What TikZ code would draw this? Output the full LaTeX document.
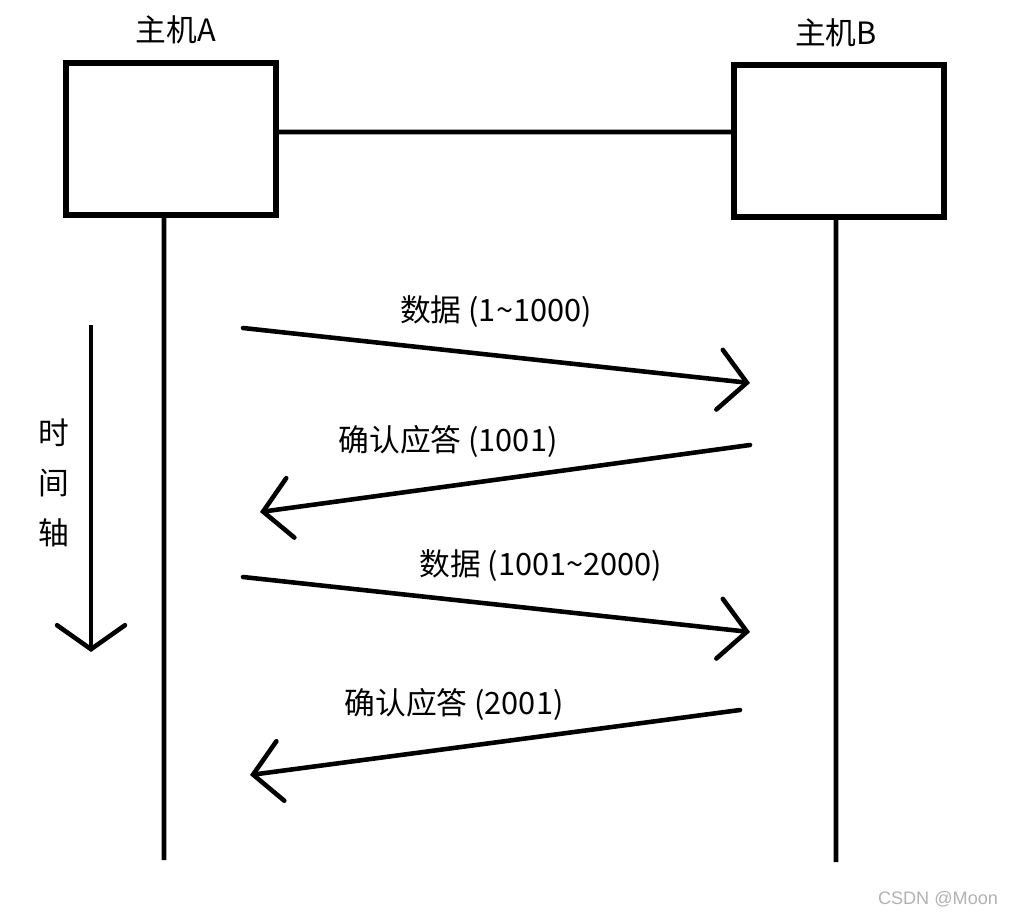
\documentclass[tikz,border=0pt]{standalone}
\usepackage{fontspec}
\newfontfamily\cjk{Noto Sans CJK SC}
\newfontfamily\wmfont{Liberation Sans}
\usetikzlibrary{positioning,arrows.meta,calc}

\begin{document}
\begin{tikzpicture}[x={(0.02cm,0)},y={(0,-0.02cm)},line width=2.6pt,
    host/.style={draw,rectangle,line width=3pt,minimum width=42mm,minimum height=30.4mm,inner sep=0pt},
    lbl/.style={font=\cjk\fontsize{17.5}{19}\selectfont,inner sep=0pt},
    msg/.style={-{Straight Barb[length=5.5mm,width=12mm,line cap=round]},line cap=round}]
  \useasboundingbox (0,0) rectangle (1009,917);
  \node [host] (hostA) at (171,139) {};
  \node [host] (hostB) at (839,141) {};
  \node [lbl] (nameA) at (176,30) {主机A};
  \node [lbl] (nameB) at (836,33) {主机B};
  \draw ([yshift=1.4mm]hostA.east) -- ([yshift=1.8mm]hostB.west);
  \coordinate (endA) at (164,860);
  \coordinate (endB) at (836,862);
  \draw ([xshift=-1.4mm]hostA.south) -- (endA);
  \draw ([xshift=-0.6mm]hostB.south) -- (endB);
  \coordinate (t0) at (91,325);
  \coordinate (t1) at (91,652);
  \draw [-{Straight Barb[length=4.8mm,width=13.6mm,line cap=round]}] (t0) -- (t1);
  \node [lbl] (shi) at (54,433) {时};
  \node [lbl] (jian) at (54,483) {间};
  \node [lbl] (zhou) at (54,533) {轴};
  \coordinate (d1s) at (243,328);
  \coordinate (d1e) at (750,383);
  \coordinate (a1s) at (750,445);
  \coordinate (a1e) at (260,512);
  \coordinate (d2s) at (243,577);
  \coordinate (d2e) at (750,632);
  \coordinate (a2s) at (740,710);
  \coordinate (a2e) at (250,775);
  \draw [msg] (d1s) -- (d1e);
  \draw [msg] (a1s) -- (a1e);
  \draw [msg] (d2s) -- (d2e);
  \draw [msg] (a2s) -- (a2e);
  \node [lbl] (d1l) at (496,312) {数据 (1\textasciitilde1000)};
  \node [lbl] (a1l) at (448,441) {确认应答 (1001)};
  \node [lbl] (d2l) at (541,566) {数据 (1001\textasciitilde2000)};
  \node [lbl] (a2l) at (454,704) {确认应答 (2001)};
  \node [font=\wmfont\fontsize{10.3}{12}\selectfont,text=black!30,inner sep=0pt] (mark) at (938,899) {CSDN @Moon};
\end{tikzpicture}
\end{document}
